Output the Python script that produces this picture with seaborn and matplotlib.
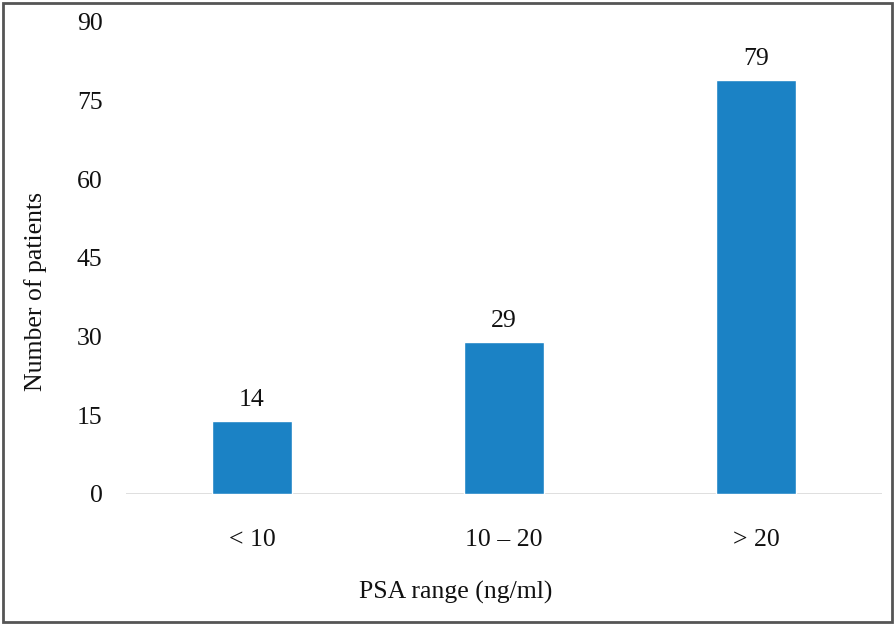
import matplotlib
matplotlib.use("Agg")
import matplotlib.pyplot as plt
import seaborn as sns
import pandas as pd
from matplotlib.patches import Rectangle

categories = ["< 10", "10 – 20", "> 20"]
patients = [14, 29, 79]
y_ticks = [0, 15, 30, 45, 60, 75, 90]

df = pd.DataFrame({"PSA range": categories, "Patients": patients})

sns.set_theme(style="white")
plt.rcParams["font.family"] = ["Liberation Serif", "DejaVu Serif"]
text_color = "#111111"

fig = plt.figure(figsize=(8.95, 6.25), dpi=100)
ax = fig.add_axes([0.1408, 0.2096, 0.8447, 0.7552])

sns.barplot(data=df, x="PSA range", y="Patients", color="#1B82C5",
            width=0.314, saturation=1, ax=ax, zorder=3)

for i, v in enumerate(patients):
    ax.text(i, v + 1.9, str(v), ha="center", va="bottom",
            fontsize=18.5, color=text_color)

ax.set_xlim(-0.5, 2.5)
ax.set_ylim(0, 90)
ax.set_yticks(y_ticks)
ax.set_yticklabels([str(t) for t in y_ticks])
ax.axhline(0, color="#d9d9d9", lw=1.2, zorder=2)

for s in ax.spines.values():
    s.set_visible(False)
ax.tick_params(axis="both", length=0, labelsize=18.5, colors=text_color)
ax.tick_params(axis="y", pad=17)
ax.tick_params(axis="x", pad=25)

ax.set_xlabel("PSA range (ng/ml)", fontsize=18.5, color=text_color)
ax.set_ylabel("Number of patients", fontsize=18.5, color=text_color)
ax.xaxis.set_label_coords(0.436, -0.184)
ax.yaxis.set_label_coords(-0.105, 0.43)

fig.patches.append(Rectangle((0.0035, 0.005), 0.993, 0.99, transform=fig.transFigure,
                             fill=False, edgecolor="#555555", lw=2))

fig.savefig("out.png", dpi=100, facecolor="white")
